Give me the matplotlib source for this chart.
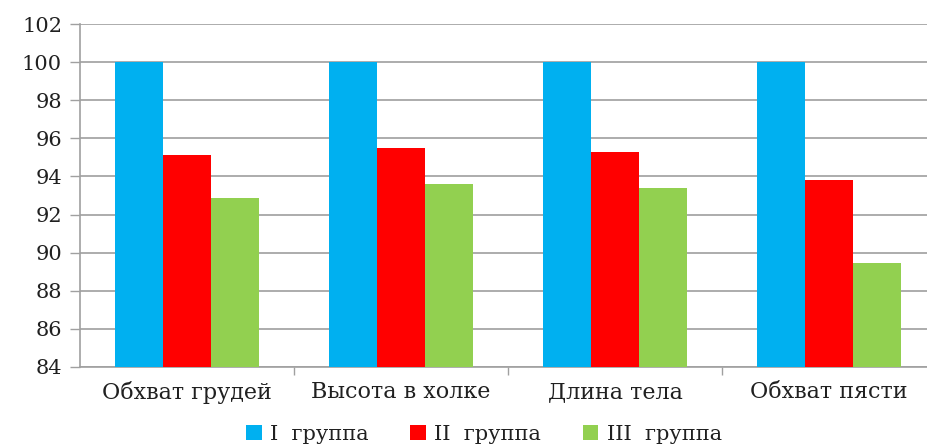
import numpy as np
import matplotlib.pyplot as plt

categories = ["Обхват грудей", "Высота в холке", "Длина тела", "Обхват пясти"]
group_1 = [100, 100, 100, 100]
group_2 = [95.1, 95.5, 95.3, 93.8]
group_3 = [92.85, 93.6, 93.4, 89.45]
series_names = ["I  группа", "II  группа", "III  группа"]
colors = ["#00B0F0", "#FF0000", "#92D050"]

plt.rcParams['font.family'] = ['DejaVu Serif']

fig = plt.figure(figsize=(9.28, 4.45), dpi=100)
# plot area runs slightly past the right edge of the picture, as in the reference
ax = fig.add_axes([80 / 928, 78 / 445, 856 / 928, 343 / 445])

x = np.arange(len(categories))
w = 0.224
for i, (vals, name, c) in enumerate(zip([group_1, group_2, group_3], series_names, colors)):
    ax.bar(x + (i - 1) * w, vals, width=w, color=c, label=name, zorder=3)

ax.set_ylim(84, 102)
ax.set_yticks(np.arange(84, 103, 2))
ax.set_xlim(-0.5, len(categories) - 0.5)
ax.set_xticks(x)
ax.set_xticklabels(categories, fontsize=16, color='#202020')
ax.set_xticks(np.arange(0.5, len(categories) - 0.5, 1), minor=True)
ax.tick_params(axis='x', which='major', length=0, pad=10)
ax.tick_params(axis='x', which='minor', length=6, color='#A0A0A0', width=1)
ax.tick_params(axis='y', length=7, color='#A0A0A0', width=1, labelsize=15,
               labelcolor='#202020', pad=6)

ax.grid(axis='y', color='#A6A6A6', linewidth=1.3, zorder=0)
for side in ['top', 'right']:
    ax.spines[side].set_visible(False)
ax.spines['left'].set_color('#A0A0A0')
ax.spines['bottom'].set_color('#A0A0A0')
ax.spines['left'].set_linewidth(1.2)
ax.spines['bottom'].set_linewidth(1.2)

leg = fig.legend(loc='lower center', bbox_to_anchor=(484 / 928, -0.04), ncol=3, frameon=False,
                 fontsize=15, handlelength=0.75, handleheight=0.75, handletextpad=0.4,
                 columnspacing=2.0)
for t in leg.get_texts():
    t.set_color('#202020')

fig.savefig('out.png', dpi=100)
